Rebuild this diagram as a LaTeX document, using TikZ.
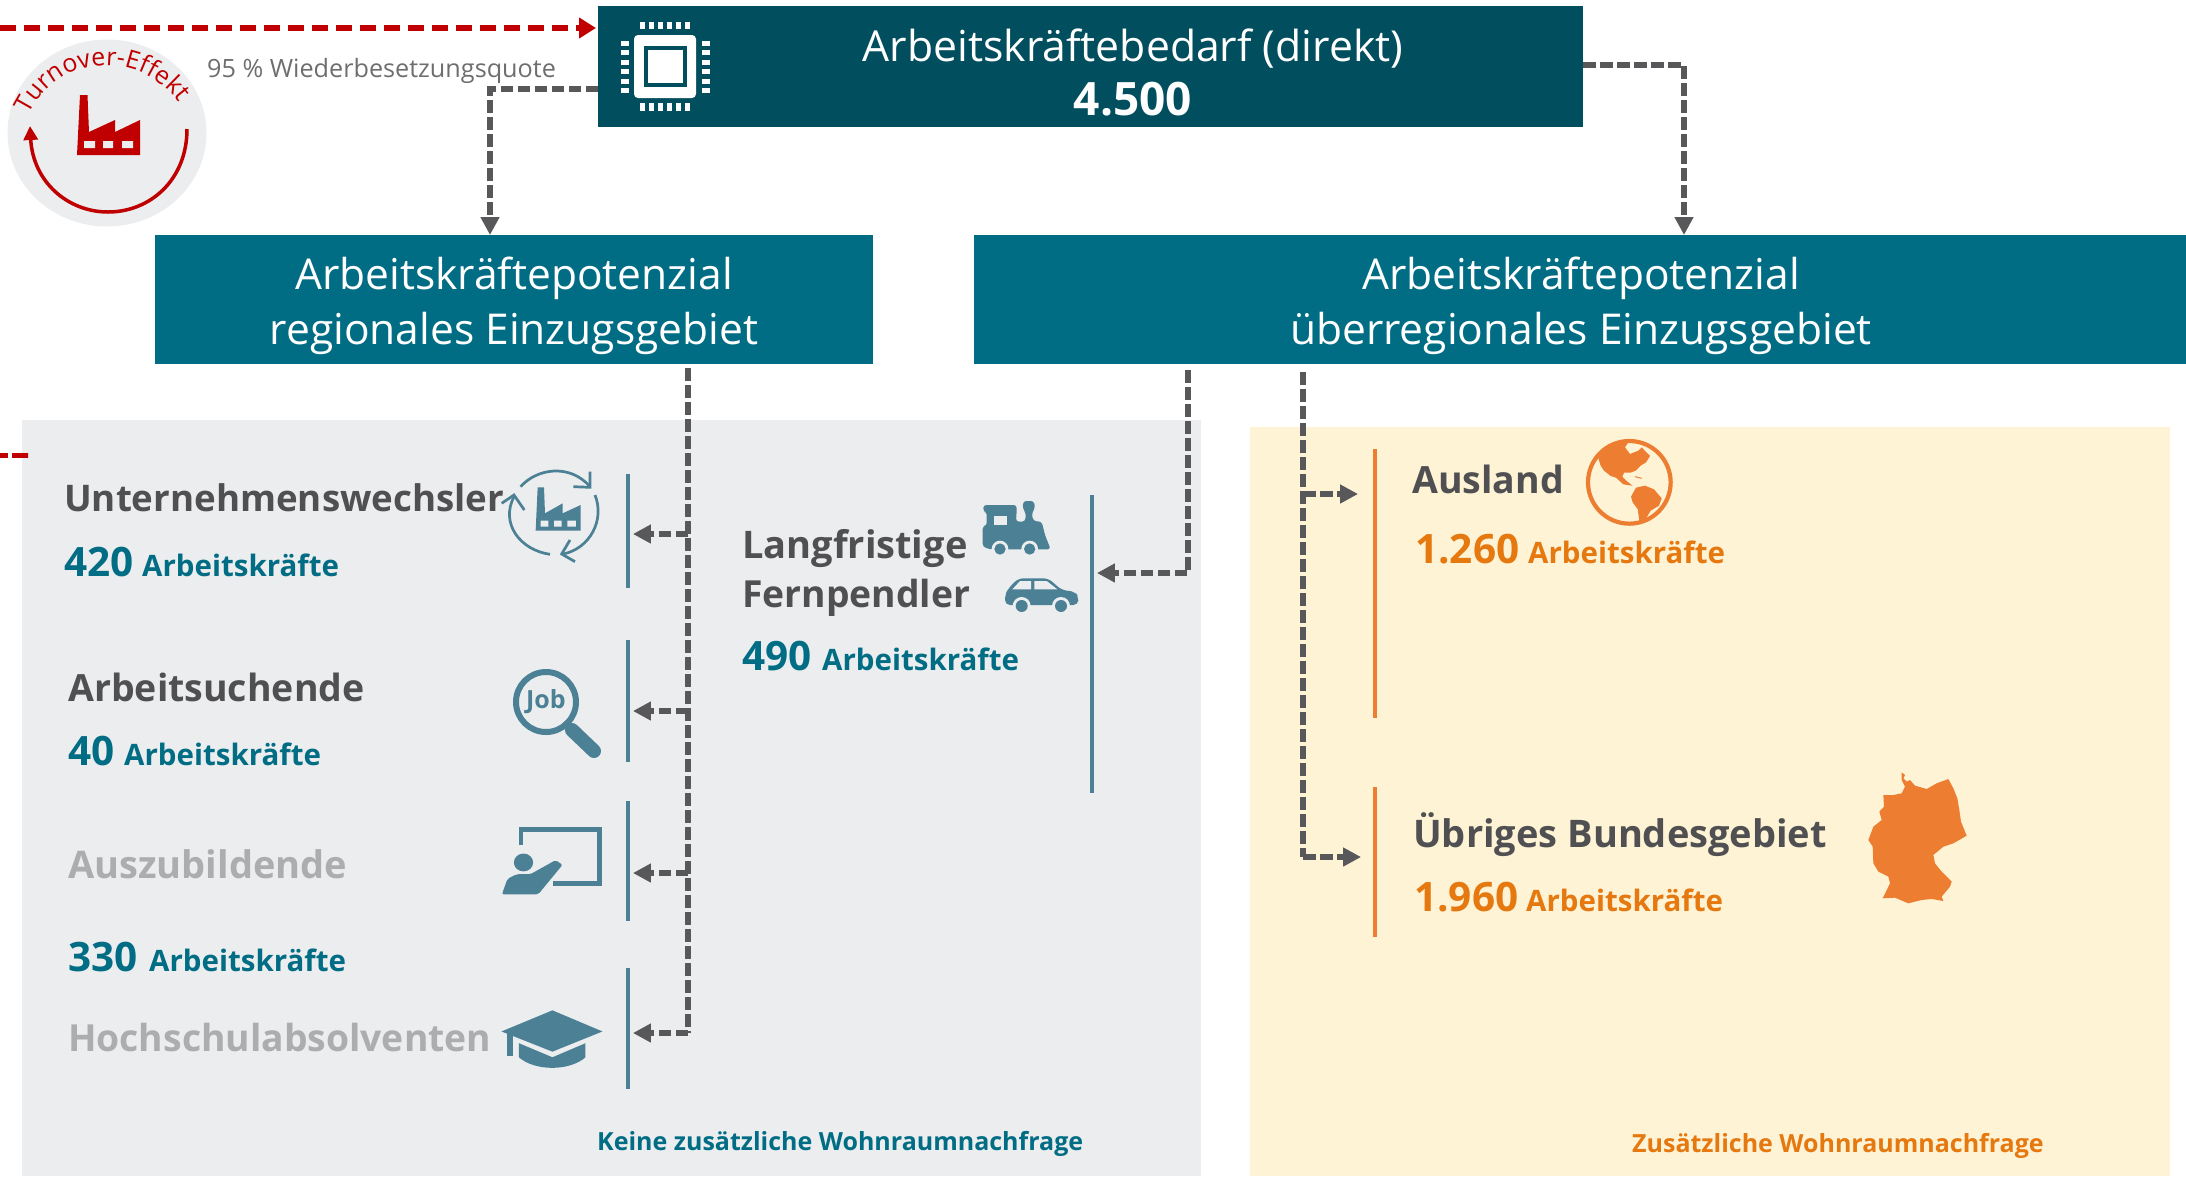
\documentclass[tikz,border=0pt]{standalone}
\usepackage{fontspec}
\setmainfont{Open Sans}
\usetikzlibrary{arrows.meta,decorations.text,calc,shapes.geometric}
\definecolor{topbox}{HTML}{004E5E}
\definecolor{midbox}{HTML}{006D84}
\definecolor{panelgrey}{HTML}{ECEDEF}
\definecolor{panelcream}{HTML}{FFF3D6}
\definecolor{redc}{HTML}{C00000}
\definecolor{connc}{HTML}{58585A}
\definecolor{headc}{HTML}{505052}
\definecolor{fadedc}{HTML}{ACADAF}
\definecolor{iconc}{HTML}{4C8195}
\definecolor{orangec}{HTML}{ED7D31}
\definecolor{orangetxt}{HTML}{E5780F}
\definecolor{quotec}{HTML}{6E6E70}
\newcommand{\fsz}[1]{\fontsize{#1}{#1}\selectfont}
\tikzset{
 box/.style={rectangle,inner sep=0},
 boxtext/.style={inner sep=0,text=white,align=center,font=\fontsize{42.5}{55}\selectfont},
 head/.style={anchor=base west,inner sep=0,yshift=-1.2pt,font=\bfseries\fsz{#1},text=headc},
 head/.default=37.5,
 faded/.style={head=#1,text=fadedc},
 num/.style={anchor=base west,inner sep=0,yshift=-1.2pt,font=\bfseries\fsz{40.5},text=midbox},
 lab/.style={anchor=base west,inner sep=0,yshift=-1.2pt,font=\bfseries\fsz{29.5},text=midbox},
 onum/.style={num,text=orangetxt},
 olab/.style={lab,text=orangetxt},
 bar/.style={rectangle,inner sep=0,minimum width=3.5pt,fill=iconc},
 obar/.style={rectangle,inner sep=0,minimum width=3.5pt,fill=orangec},
 conn/.style={draw=connc,line width=5.5pt,dash pattern=on 12.5pt off 4.5pt},
 tipconn/.style={conn,-{Triangle[length=18pt,width=18pt,fill=connc,sep=0pt]}},
 zB/.style={shift={(0,440)},x=.4592pt,y=-.4694pt},
 zoomat/.style 2 args={shift={(#1,#2)},x=.3333pt,y=-.3333pt},
}
\begin{document}
\begin{tikzpicture}[x=1pt,y=-1pt]
\useasboundingbox (0,0) rectangle (2186,1176);
% panels
\node[rectangle,inner sep=0,fill=panelgrey,minimum width=1179pt,minimum height=756pt,anchor=north west] (greypanel) at (22,420) {};
\node[rectangle,inner sep=0,fill=panelcream,minimum width=920pt,minimum height=749pt,anchor=north west] (creampanel) at (1250,427) {};
% boxes
\node[box,fill=topbox,minimum width=985pt,minimum height=121pt,anchor=north west] (bedarf) at (598,6) {};
\node[anchor=base,inner sep=0,text=white,font=\fsz{42.7}] (bedarfT) at (1133,61) {Arbeitskräftebedarf (direkt)};
\node[anchor=base,inner sep=0,text=white,font=\bfseries\fsz{46}] (bedarfN) at (1133,115) {4.500};
\node[box,fill=midbox,minimum width=718pt,minimum height=129pt,anchor=north west] (regional) at (155,235) {};
\node[box,fill=midbox,minimum width=1212pt,minimum height=129pt,anchor=north west] (ueber) at (974,235) {};
\node[boxtext] (regionalT) at (514,306) {Arbeitskräftepotenzial\\regionales Einzugsgebiet};
\node[boxtext] (ueberT) at (1581,306) {Arbeitskräftepotenzial\\überregionales Einzugsgebiet};
% turnover
\node[ellipse,inner sep=0,fill=panelgrey,minimum width=199pt,minimum height=187pt] (circ) at (107,133) {};
\path[decorate,decoration={text along path,text align=center,text={|\color{redc}\fsz{25}|Turnover-Effekt}}]
  (24,127) .. controls (50,47) and (150,47) .. (186,114);
\draw[redc,line width=3.5pt,-{Triangle[length=14pt,width=14pt]}] (187,129) .. controls (187,180) and (150,212) .. (108,212) .. controls (68,212) and (33,182) .. (30,126);
\fill[redc] (77,155) -- (80,95) -- (87.5,95) -- (89,132) -- (115,120) -- (115,132) -- (140,120) -- (140,155) -- cycle;
\fill[panelgrey] (84,141) rectangle (95,148) (103,141) rectangle (113,148) (122,141) rectangle (133,148);
\node[anchor=base west,inner sep=0,text=quotec,font=\fsz{25.2}] (quote) at (207,77) {95 \% Wiederbesetzungsquote};
% red connectors
\coordinate (redstart) at (0,28);
\coordinate (redin) at (bedarf.west |- redstart);
\draw[redc,line width=6.5pt,dash pattern=on 16pt off 8pt,shorten >=2pt,-{Triangle[length=17pt,width=20pt,fill=redc,sep=0pt]}] (redstart) -- (redin);
\coordinate (redstub) at (0,455);
\coordinate (redstubB) at (28,455);
\draw[redc,line width=5pt,dash pattern=on 8pt off 4pt on 16pt off 0pt] (redstub) -- (redstubB);
% chip
\fill[white,rounded corners=4pt] (634,35) rectangle (696,98);
\draw[topbox,line width=3.5pt] (646,48) rectangle (685,85);
\foreach \i in {0,...,5}{
 \fill[white] ({639.5+\i*9},22) rectangle ({644.5+\i*9},29);
 \fill[white] ({639.5+\i*9},103) rectangle ({644.5+\i*9},111);
 \fill[white] (621,{41+\i*9.4}) rectangle (629,{46+\i*9.4});
 \fill[white] (702,{41+\i*9.4}) rectangle (710,{46+\i*9.4});
}
% connectors top
\coordinate (d1b) at (490,89);
\draw[tipconn] (bedarf.west |- d1b) -- (d1b) -- (d1b |- regional.north);
\coordinate (d2b) at (1684,65);
\draw[tipconn] (bedarf.east |- d2b) -- (d2b) -- (d2b |- ueber.north);
% bars
\node[bar,minimum height=114pt,anchor=north] (barU) at (628,474) {};
\node[bar,minimum height=122pt,anchor=north] (barA) at (628,640) {};
\node[bar,minimum height=120pt,anchor=north] (barZ) at (628,801) {};
\node[bar,minimum height=121pt,anchor=north] (barH) at (628,968) {};
\node[bar,minimum height=298pt,anchor=north] (barL) at (1092,495) {};
\node[obar,minimum height=269pt,anchor=north] (barO) at (1375,449) {};
\node[obar,minimum height=150pt,anchor=north] (barB) at (1375,787) {};
% regional trunk
\coordinate (t3) at (688,368);
\coordinate (jU) at (688,534);
\coordinate (jA) at (688,711);
\coordinate (jZ) at (688,873);
\coordinate (jH) at (688,1033);
\draw[conn] (t3) -- (jH);
\draw[tipconn,shorten >=3pt] (jU) -- (barU.east |- jU);
\draw[tipconn,shorten >=3pt] (jA) -- (barA.east |- jA);
\draw[tipconn,shorten >=3pt] (jZ) -- (barZ.east |- jZ);
\draw[tipconn,shorten >=3pt] (jH) -- (barH.east |- jH);
% Fernpendler
\coordinate (t4) at (1188,370);
\coordinate (jL) at (1188,573);
\draw[tipconn,shorten >=3pt] (t4) -- (jL) -- (barL.east |- jL);
% ueberregional trunk
\coordinate (t5) at (1303,372);
\coordinate (jO) at (1303,494);
\coordinate (jB) at (1303,857);
\draw[conn] (t5) -- (jB);
\draw[tipconn,shorten >=15pt] (jO) -- (barO.west |- jO);
\draw[tipconn,shorten >=12pt] (jB) -- (barB.west |- jB);
% left texts
\node[head=36.7] (tU) at (64,510) {Unternehmenswechsler};
\node[num] (nU) at (64,575) {420};
\node[lab] (lU) at (142,575) {Arbeitskräfte};
\node[head=37.5] (tA) at (68,700) {Arbeitsuchende};
\node[num] (nA) at (68,764) {40};
\node[lab] (lA) at (124,764) {Arbeitskräfte};
\node[faded=38] (tZ) at (68,877) {Auszubildende};
\node[num] (nZ) at (68,970) {330};
\node[lab] (lZ) at (149,970) {Arbeitskräfte};
\node[faded=37.3] (tH) at (68,1050) {Hochschulabsolventen};
\node[anchor=base west,inner sep=0,font=\bfseries\fsz{25},text=midbox] (keine) at (597,1150) {Keine zusätzliche Wohnraumnachfrage};
\node[head=38] (tL1) at (742,557) {Langfristige};
\node[head=37.3] (tL2) at (742,606) {Fernpendler};
\node[num] (nL) at (742,669) {490};
\node[lab] (lL) at (822,669) {Arbeitskräfte};
\node[head=37.5] (tO) at (1412,492) {Ausland};
\node[onum] (nO) at (1415,562) {1.260};
\node[olab] (lO) at (1528,562) {Arbeitskräfte};
\node[head=38] (tB) at (1413,846) {Übriges Bundesgebiet};
\node[onum] (nB) at (1414,910) {1.960};
\node[olab] (lB) at (1526,910) {Arbeitskräfte};
\node[anchor=base west,inner sep=0,font=\bfseries\fsz{25},text=orangetxt] (zus) at (1632,1152) {Zusätzliche Wohnraumnachfrage};
% cycle-factory icon
\begin{scope}[zoomat={490}{460}]
 \draw[iconc,line width=2.7pt] (92,80) .. controls (140,25) and (240,10) .. (300,80);
 \draw[iconc,line width=2.7pt] (300,35) -- (300,82) -- (250,80);
 \draw[iconc,line width=2.7pt] (315,105) .. controls (345,180) and (300,265) .. (220,282);
 \draw[iconc,line width=2.7pt] (240,240) -- (215,282) -- (255,305);
 \draw[iconc,line width=2.7pt] (180,283) .. controls (90,270) and (30,190) .. (72,110);
 \draw[iconc,line width=2.7pt] (35,130) -- (72,105) -- (103,150);
 \fill[iconc] (137,212) -- (143,82) -- (162,82) -- (165,160) -- (218,130) -- (218,160) -- (272,135) -- (272,212) -- cycle;
 \fill[panelgrey] (152,182) rectangle (175,200) (192,182) rectangle (215,200) (232,182) rectangle (258,200);
\end{scope}
% job icon
\draw[iconc,line width=6pt,fill=panelgrey] (546,702) circle (30);
\draw[iconc,line width=14pt,line cap=round] (572,730) -- (594,751);
\draw[iconc,line width=6pt] (564,722) -- (572,730);
\node[inner sep=0,text=iconc,font=\bfseries\fsz{25}] (job) at (546,702) {Job};
% teaching icon
\begin{scope}[zB]
 \draw[iconc,line width=4.5pt] (1135,862) -- (1135,830) -- (1306,830) -- (1306,945) -- (1205,945);
 \fill[iconc] (1140,900) ellipse (21 and 19);
 \fill[iconc,rounded corners=2pt] (1093,968) -- (1105,935) -- (1125,925) -- (1155,925) -- (1210,895) -- (1225,905) -- (1172,968) -- cycle;
\end{scope}
% cap icon
\begin{scope}[zB]
 \fill[iconc] (1092,1260) -- (1203,1215) -- (1312,1260) -- (1203,1303) -- cycle;
 \fill[iconc] (1130,1285) -- (1203,1315) -- (1275,1285) -- (1275,1315) .. controls (1240,1345) and (1165,1345) .. (1130,1315) -- cycle;
 \fill[iconc] (1104,1262) rectangle (1118,1312);
\end{scope}
% train and car icons
\begin{scope}[zoomat={970}{490}]
 \fill[iconc,rounded corners=3pt] (40,45) -- (140,45) -- (140,62) -- (138,95) -- (165,95) -- (168,70) -- (158,55) -- (160,33) -- (192,33) -- (195,55) -- (185,70) -- (190,93) -- (215,95) -- (225,135) -- (242,178) -- (60,178) -- (38,170) -- (38,108) -- (50,108) -- (50,65) -- (40,65) -- cycle;
 \fill[panelgrey] (72,78) rectangle (112,105);
 \fill[panelgrey] (90,177) circle (25) (179,177) circle (25);
 \fill[iconc] (90,177) circle (17) (179,177) circle (17);
 \fill[iconc,rounded corners=5pt] (105,345) -- (105,315) -- (115,295) -- (145,265) -- (235,265) -- (275,300) -- (315,305) -- (325,320) -- (325,345) -- cycle;
 \fill[panelgrey] (127,298) -- (150,273) -- (183,273) -- (183,298) -- cycle (193,298) -- (193,273) -- (230,273) -- (262,298) -- cycle;
 \fill[panelgrey] (155,348) circle (27) (273,348) circle (27);
 \fill[iconc] (155,348) circle (18) (273,348) circle (18);
\end{scope}
% globe
\begin{scope}[zoomat={1570}{430}]
 \draw[orangec,line width=4.2pt] (178,157) circle (124);
 \fill[orangec] (85,85) -- (105,55) -- (140,38) -- (178,32) -- (165,52) -- (180,72) -- (205,62) -- (215,52) -- (240,78) -- (228,97) -- (212,107) -- (197,122) -- (182,128) -- (162,128) -- (157,140) -- (172,155) -- (188,167) -- (160,163) -- (138,143) -- (122,138) -- (102,122) -- (92,107) -- cycle;
 \fill[orangec] (183,200) -- (198,173) -- (225,167) -- (252,178) -- (275,205) -- (267,227) -- (242,242) -- (227,267) -- (208,272) -- (203,237) -- (188,217) -- cycle;
 \draw[orangec,line width=1pt] (195,140) -- (215,145);
\end{scope}
% germany
\begin{scope}[zoomat={1860}{765}]
 \fill[orangec] (125,22) -- (135,30) -- (130,40) -- (140,50) -- (150,45) -- (165,62) -- (200,72) -- (230,55) -- (265,42) -- (280,70) -- (292,100) -- (298,135) -- (303,170) -- (320,212) -- (280,235) -- (250,245) -- (220,270) -- (225,295) -- (245,320) -- (275,350) -- (270,365) -- (245,395) -- (250,408) -- (215,402) -- (185,405) -- (145,415) -- (105,398) -- (68,400) -- (90,355) -- (85,335) -- (55,320) -- (40,295) -- (38,245) -- (25,225) -- (40,185) -- (65,165) -- (58,140) -- (72,125) -- (70,90) -- (100,90) -- (125,85) -- (135,65) -- (125,45) -- cycle;
\end{scope}
\end{tikzpicture}
\end{document}
